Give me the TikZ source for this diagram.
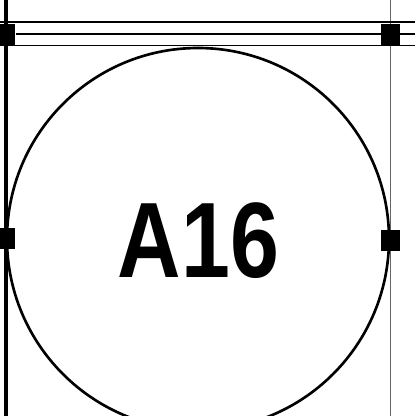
\documentclass[tikz,border=0pt]{standalone}
\usepackage{fontspec}
\setmainfont{Liberation Sans}
\begin{document}
\begin{tikzpicture}[x=0.02cm,y=-0.02cm,
  pad/.style={fill=black,inner sep=0pt,minimum width=0.37cm,minimum height=0.42cm},
  rule/.style={line width=0.7pt}]
  \useasboundingbox (0,0) rectangle (415,416);
  % frame lines
  \coordinate (lt) at (6,0);
  \coordinate (lb) at (6,416);
  \coordinate (rt) at (390.5,0);
  \coordinate (rb) at (390.5,416);
  \draw[line width=2pt] (lt) -- (lb);
  \draw[line width=0.6pt,black!60] (rt) -- (rb);
  \draw[rule] (0,22) -- (415,22);
  \draw[rule] (0,45.5) -- (415,45.5);
  % disc
  \draw[line width=1.5pt] (198,239) circle[radius=191];
  % pads
  \node[pad] (tl) at (6,34) {};
  \node[pad] (tr) at (390.5,34) {};
  \node[pad] (ml) at (6,238) {};
  \node[pad] (mr) at (390.5,240) {};
  \coordinate (te) at (415,34);
  \draw[line width=1.7pt] (tl) -- (tr) -- (te);
  \node[font=\bfseries\fontsize{61}{61}\selectfont,anchor=base,inner sep=0pt]
    (lbl) at (198.5,277) {\scalebox{0.82}[1]{A16}};
\end{tikzpicture}
\end{document}
